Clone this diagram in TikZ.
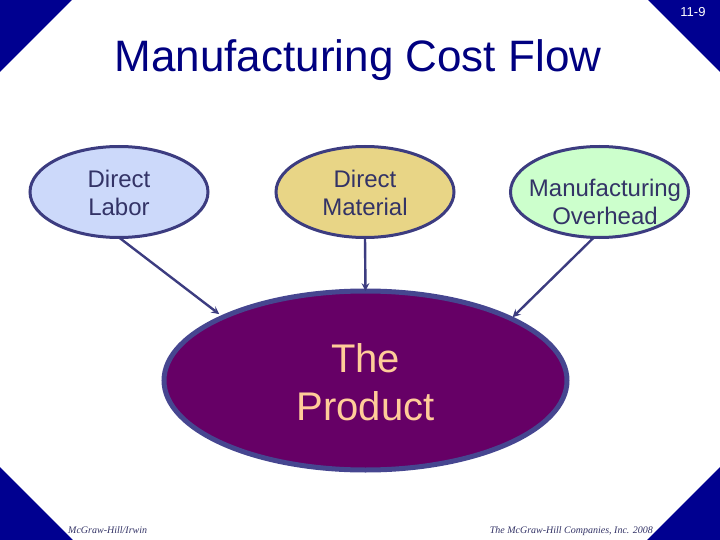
\documentclass[tikz,border=0pt]{standalone}
\usepackage{fontspec}
\setmainfont{Liberation Sans}
\newfontfamily\footfont{Liberation Serif}
\usetikzlibrary{shapes.geometric}
\definecolor{cornerblue}{HTML}{000090}
\definecolor{titleblue}{HTML}{000080}
\definecolor{edgeblue}{HTML}{3C3C80}
\definecolor{productedge}{HTML}{464690}
\definecolor{inkblue}{HTML}{333366}
\definecolor{laborfill}{HTML}{CCD9FA}
\definecolor{materialfill}{HTML}{E8D586}
\definecolor{overheadfill}{HTML}{CCFFCC}
\definecolor{productfill}{HTML}{660066}
\definecolor{producttext}{HTML}{FFCC99}
\tikzset{
  source/.style={ellipse, draw=edgeblue, line width=3pt, inner sep=0pt, outer sep=0pt,
    minimum width=178pt, minimum height=91pt},
  sourcetext/.style={text=inkblue, align=center, inner sep=0pt, font=\fontsize{24}{28}\selectfont},
  flow/.style={-stealth, draw=edgeblue, line width=2.4pt},
  corner/.style={fill=cornerblue},
  foot/.style={text=inkblue, inner sep=0pt, font=\footfont\itshape\fontsize{10}{12}\selectfont}
}
\begin{document}
\begin{tikzpicture}[x=1pt, y=-1pt]
\useasboundingbox (0,0) rectangle (720,540);
\fill[corner] (0,0) -- (72,0) -- (0,72) -- cycle;
\fill[corner] (648,0) -- (720,0) -- (720,72) -- cycle;
\fill[corner] (0,467) -- (73,540) -- (0,540) -- cycle;
\fill[corner] (720,467) -- (720,540) -- (647,540) -- cycle;
\node[text=white, inner sep=0pt, font=\fontsize{13}{15}\selectfont] (slideno) at (693,12){11-9};
\node[text=titleblue, inner sep=0pt, font=\fontsize{44}{50}\selectfont] (title) at (358,60){Manufacturing Cost Flow};
\node[source, fill=laborfill, label={[name=labortext, sourcetext, yshift=-1pt]center:Direct\\Labor}] (labor) at (119,192){};
\node[source, fill=materialfill, label={[name=materialtext, sourcetext, yshift=-1pt]center:Direct\\Material}] (material) at (365,192){};
\node[source, fill=overheadfill, label={[name=overheadtext, sourcetext, xshift=5.5pt, yshift=-10pt]center:Manufacturing\\Overhead}] (overhead) at (599.5,192){};
\node[ellipse, draw=productedge, fill=productfill, line width=5pt, inner sep=0pt, outer sep=0pt, minimum width=403pt, minimum height=179pt, label={[name=producttext, text=producttext, align=center, inner sep=0pt, yshift=-2pt, font=\fontsize{40}{48}\selectfont]center:The\\Product}] (product) at (365.5,380.5){};
\draw[flow, shorten >=5pt] (labor.south) -- (product.156);
\draw[flow] (material.south) -- (product.north);
\draw[flow, shorten >=2pt] (overhead.263) -- (product.23.4);
\node[foot, anchor=base west] (mcgraw) at (68,533){McGraw-Hill/Irwin};
\node[foot, anchor=base east] (companies) at (653,533){The McGraw-Hill Companies, Inc. 2008};
\end{tikzpicture}
\end{document}
